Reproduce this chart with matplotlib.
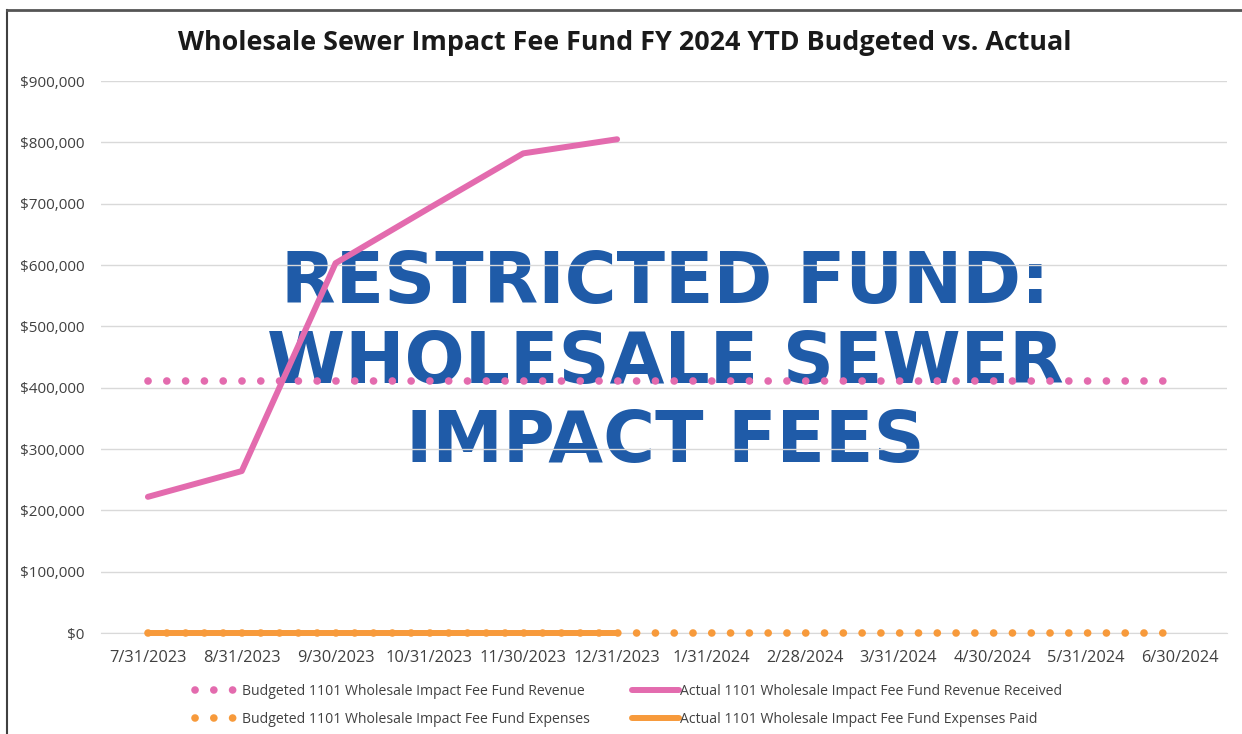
import numpy as np
import matplotlib.pyplot as plt
from matplotlib.lines import Line2D

# category labels (month ends)
months = ['7/31/2023', '8/31/2023', '9/30/2023', '10/31/2023', '11/30/2023', '12/31/2023',
          '1/31/2024', '2/28/2024', '3/31/2024', '4/30/2024', '5/31/2024', '6/30/2024']

budget_revenue = [411000] * 12
actual_revenue = [222000, 264000, 603000, 693000, 782000, 805000]
budget_expenses = [0] * 12
actual_expenses = [0, 0, 0, 0, 0, 0]

pink = '#E36BAE'
orange = '#F79A3B'
blue = '#1F5BA8'

plt.rcParams['font.family'] = ['Open Sans', 'DejaVu Sans']

fig = plt.figure(figsize=(12.42, 7.34), dpi=100)
ax = fig.add_axes([101/1242, 1 - 633/734, 1126/1242, 552/734])

x = np.arange(len(months))
dots = (0, (0.01, 2.45))

ax.plot(x, budget_revenue, color=pink, lw=5.5, ls=dots, dash_capstyle='round',
        zorder=3, clip_on=False)
ax.plot(x[:len(actual_revenue)], actual_revenue, color=pink, lw=4.3,
        solid_capstyle='round', solid_joinstyle='round', zorder=4, clip_on=False)
ax.plot(x, budget_expenses, color=orange, lw=5.5, ls=dots, dash_capstyle='round',
        zorder=3, clip_on=False)
ax.plot(x[:len(actual_expenses)], actual_expenses, color=orange, lw=4.3,
        solid_capstyle='round', zorder=4, clip_on=False)

# watermark text behind the grid
ax.text(0.501, 0.489, 'RESTRICTED FUND:\nWHOLESALE SEWER\nIMPACT FEES', transform=ax.transAxes,
        ha='center', va='center', color=blue, fontsize=51, fontweight='bold',
        family=['DejaVu Sans'], linespacing=1.2, zorder=0.1)

ax.set_xlim(-0.5, 11.5)
ax.set_ylim(0, 900000)
ax.set_yticks(np.arange(0, 900001, 100000))
ax.set_yticklabels(['$0'] + ['${:,}'.format(v) for v in range(100000, 900001, 100000)])
ax.set_xticks(x)
ax.set_xticklabels(months)
ax.tick_params(axis='both', length=0, colors='#404040')
ax.tick_params(axis='x', pad=12, labelsize=11.8)
ax.tick_params(axis='y', pad=12, labelsize=11)
ax.grid(axis='y', color='#D9D9D9', lw=1)
ax.set_axisbelow(True)
for s in ['top', 'right', 'left']:
    ax.spines[s].set_visible(False)
ax.spines['bottom'].set_color('#D9D9D9')
ax.patch.set_alpha(0)

fig.text(0.503, 0.941, 'Wholesale Sewer Impact Fee Fund FY 2024 YTD Budgeted vs. Actual',
         ha='center', va='center', fontsize=19.4, fontweight='bold', color='#1a1a1a')

handles = [
    Line2D([], [], color=pink, lw=5.5, ls=dots, dash_capstyle='round'),
    Line2D([], [], color=orange, lw=5.5, ls=dots, dash_capstyle='round'),
    Line2D([], [], color=pink, lw=4.3, solid_capstyle='round'),
    Line2D([], [], color=orange, lw=4.3, solid_capstyle='round'),
]
labels = ['Budgeted 1101 Wholesale Impact Fee Fund Revenue',
          'Budgeted 1101 Wholesale Impact Fee Fund Expenses',
          'Actual 1101 Wholesale Impact Fee Fund Revenue Received',
          'Actual 1101 Wholesale Impact Fee Fund Expenses Paid']
fig.legend(handles, labels, ncol=2, loc='center', bbox_to_anchor=(0.506, 0.039),
           frameon=False, fontsize=10.1, handlelength=3.3, handletextpad=0.1,
           columnspacing=3.0, labelspacing=0.9, labelcolor='#404040')

# chart border (top and left edges visible)
fig.add_artist(Line2D([7/1242, 7/1242], [0, 1 - 10/734], color='#404040', lw=1.5))
fig.add_artist(Line2D([7/1242, 1], [1 - 10/734, 1 - 10/734], color='#555555', lw=2))

fig.savefig('out.png', dpi=100)
